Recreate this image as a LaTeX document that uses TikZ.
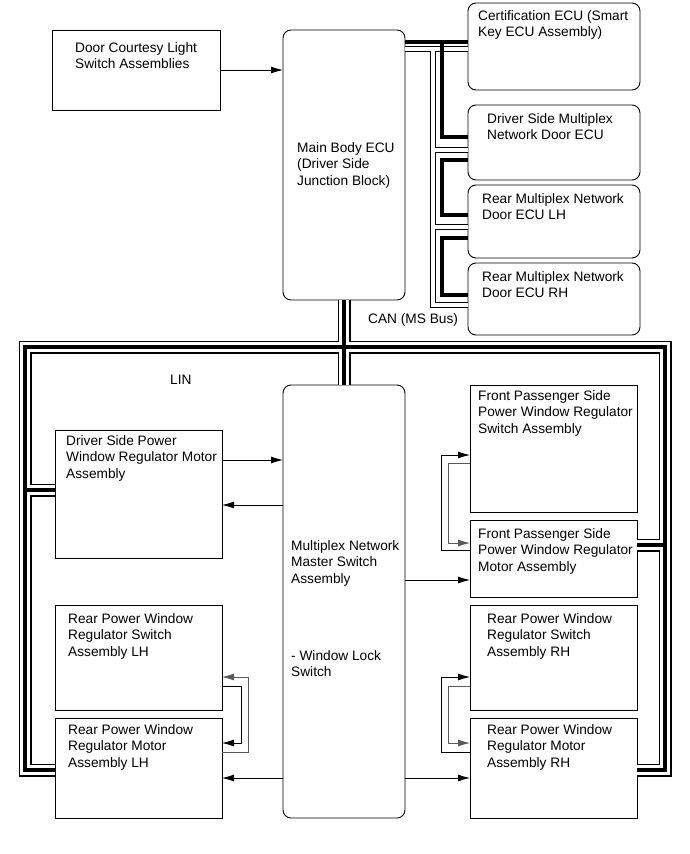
\documentclass[tikz,border=0pt]{standalone}
\usepackage{fontspec}
\setmainfont{Liberation Sans}
\usetikzlibrary{arrows.meta,calc}
\begin{document}
\begin{tikzpicture}[x=1pt,y=-1pt,
  box/.style={draw=black,line width=0.9pt,fill=white,anchor=north west,inner sep=0pt,outer sep=0pt},
  rbox/.style={box,rounded corners=8pt},
  txt/.style={anchor=north west,inner sep=0pt,align=left,font=\fontsize{13.7}{16.5}\selectfont},
  sig/.style={line width=0.8pt,-{Latex[length=12pt,width=7pt]}},
]
\useasboundingbox[fill=white] (0,0) rectangle (690,854);

% ---------- boxes ----------
\node[box,minimum width=168pt,minimum height=80pt] (dc) at (52,30) {};
\node[rbox,minimum width=122pt,minimum height=270pt] (mb) at (283,30) {};
\node[rbox,minimum width=172pt,minimum height=87pt] (cert) at (468,3) {};
\node[rbox,minimum width=172pt,minimum height=75pt] (dsm) at (468,105) {};
\node[rbox,minimum width=172pt,minimum height=73pt] (rlh) at (468,185) {};
\node[rbox,minimum width=172pt,minimum height=72pt] (rrh) at (468,263) {};

\node[rbox,minimum width=122pt,minimum height=433pt] (ms) at (283,385) {};
\node[box,minimum width=167pt,minimum height=128pt] (drv) at (55,430) {};
\node[box,minimum width=167pt,minimum height=105pt] (rls) at (55,605) {};
\node[box,minimum width=167pt,minimum height=100pt] (rlm) at (55,718) {};
\node[box,minimum width=167pt,minimum height=127pt] (fps) at (470,385) {};
\node[box,minimum width=167pt,minimum height=77pt] (fpm) at (470,520) {};
\node[box,minimum width=167pt,minimum height=105pt] (rrs) at (470,605) {};
\node[box,minimum width=167pt,minimum height=100pt] (rrm) at (470,718) {};

% ---------- LIN bus (triple line) ----------
\newcommand\linbus[1]{%
  \draw[#1] (rlm.west |- 0,770) -- (25,770) -- (25,347) -- (665,347) -- (665,770) -- (rrm.east |- 0,770);
  \draw[#1] (25,490) -- (drv.west |- 0,490);
  \draw[#1] (665,545) -- (fpm.east |- 0,545);
  \draw[#1] (mb.south) -- (ms.north);
}
\linbus{line width=13pt,line join=miter,black}
\linbus{line width=10.6pt,line join=miter,white}
\linbus{line width=4.2pt,line join=miter,black}

% ---------- CAN bus ----------
\newcommand\canhollow[1]{%
  \draw[#1] (mb.east |- 0,49) -- (cert.west |- 0,49);
  \draw[#1] (433,49) -- (433,305) -- (rrh.west |- 0,305);
  \draw[#1] (433,150) -- (dsm.west |- 0,150);
  \draw[#1] (433,227) -- (rlh.west |- 0,227);
}
\canhollow{line width=6.5pt,line join=miter,black}
\canhollow{line width=4.3pt,line join=miter,white}
\begin{scope}[line width=3.5pt,line join=miter]
  \draw (mb.east |- 0,42) -- (cert.west |- 0,42);
  \draw (442,42) -- (442,137) -- (dsm.west |- 0,137);
  \draw (dsm.west |- 0,160) -- (442,160) -- (442,215) -- (rlh.west |- 0,215);
  \draw (rlh.west |- 0,238) -- (442,238) -- (442,295) -- (rrh.west |- 0,295);
\end{scope}

% ---------- signal arrows ----------
\draw[sig] (dc.east) -- (dc.east -| mb.west);
\draw[sig] (drv.east |- 0,460) -- (ms.west |- 0,460);
\draw[sig] (ms.west |- 0,505) -- (drv.east |- 0,505);
\draw[sig] (ms.east |- 0,580) -- (fpm.west |- 0,580);
\draw[sig] (ms.west |- 0,778) -- (rlm.east |- 0,778);
\draw[sig] (ms.east |- 0,778) -- (rrm.west |- 0,778);

% front passenger loop
\draw[sig] (fpm.west |- 0,550) -- (441,550) -- (441,455) -- (fps.west |- 0,455);
\draw[sig,draw=black!65] (fps.west |- 0,463) -- (448,463) -- (448,543) -- (fpm.west |- 0,543);
% rear RH loop
\draw[sig] (rrm.west |- 0,752) -- (441,752) -- (441,677) -- (rrs.west |- 0,677);
\draw[sig,draw=black!65] (rrs.west |- 0,686) -- (448,686) -- (448,743) -- (rrm.west |- 0,743);
% rear LH loop
\draw[sig,draw=black!65] (rlm.east |- 0,752) -- (248,752) -- (248,677) -- (rls.east |- 0,677);
\draw[sig] (rls.east |- 0,686) -- (241,686) -- (241,743) -- (rlm.east |- 0,743);

% ---------- texts ----------
\node[txt] (dct) at ($(dc.north west)+(23,12)$) {Door Courtesy Light\\Switch Assemblies};
\node[txt] (mbt) at ($(mb.north west)+(14,112)$) {Main Body ECU\\(Driver Side\\Junction Block)};
\node[txt] (certt) at ($(cert.north west)+(10,7)$) {Certification ECU (Smart\\Key ECU Assembly)};
\node[txt] (dsmt) at ($(dsm.north west)+(19,8)$) {Driver Side Multiplex\\Network Door ECU};
\node[txt] (rlht) at ($(rlh.north west)+(14,8)$) {Rear Multiplex Network\\Door ECU LH};
\node[txt] (rrht) at ($(rrh.north west)+(14,8)$) {Rear Multiplex Network\\Door ECU RH};
\node[txt,anchor=west] (canl) at (368,320) {CAN (MS Bus)};
\node[txt,anchor=west] (linl) at (170,380) {LIN};

\node[txt] (mst) at ($(ms.north west)+(8,155)$) {Multiplex Network\\Master Switch\\Assembly};
\node[txt] (mst2) at ($(ms.north west)+(8,265)$) {- Window Lock\\Switch};
\node[txt] (drvt) at ($(drv.north west)+(11,5)$) {Driver Side Power\\Window Regulator Motor\\Assembly};
\node[txt] (rlst) at ($(rls.north west)+(13,8)$) {Rear Power Window\\Regulator Switch\\Assembly LH};
\node[txt] (rlmt) at ($(rlm.north west)+(13,6)$) {Rear Power Window\\Regulator Motor\\Assembly LH};
\node[txt] (fpst) at ($(fps.north west)+(8,5)$) {Front Passenger Side\\Power Window Regulator\\Switch Assembly};
\node[txt] (fpmt) at ($(fpm.north west)+(8,8)$) {Front Passenger Side\\Power Window Regulator\\Motor Assembly};
\node[txt] (rrst) at ($(rrs.north west)+(17,8)$) {Rear Power Window\\Regulator Switch\\Assembly RH};
\node[txt] (rrmt) at ($(rrm.north west)+(17,6)$) {Rear Power Window\\Regulator Motor\\Assembly RH};
\end{tikzpicture}
\end{document}
